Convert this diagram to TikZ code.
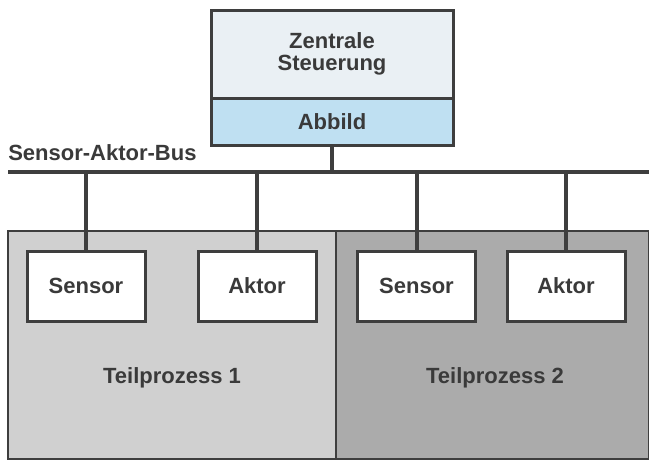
\documentclass[tikz,border=0pt]{standalone}
\usepackage{fontspec}
\setmainfont{Liberation Sans}
\definecolor{ink}{HTML}{3E3E3E}
\definecolor{txt}{HTML}{3A3A3A}
\definecolor{topfill}{HTML}{EAF0F4}
\definecolor{abbfill}{HTML}{BFE0F2}
\definecolor{tponefill}{HTML}{D0D0D0}
\definecolor{tptwofill}{HTML}{ABABAB}
\tikzset{
  lbl/.style={text=txt, font=\fontsize{16.5}{16}\selectfont\bfseries},
  region/.style={draw=ink, line width=2pt, rectangle, inner sep=0pt, minimum height=171pt},
  devbox/.style={draw=ink, line width=2.25pt, fill=white, rectangle, inner sep=0pt,
     minimum width=88.5pt, minimum height=52.5pt, lbl},
  ctrlbox/.style={draw=ink, line width=2.25pt, rectangle, inner sep=0pt,
     minimum width=181.5pt, lbl, align=center},
  busline/.style={draw=ink, line width=3pt},
  dropline/.style={draw=ink, line width=3pt},
}
\begin{document}
\begin{tikzpicture}[x=0.75pt,y=-0.75pt]
\useasboundingbox (0,0) rectangle (649,461);
% process regions
\node[region, fill=tponefill, minimum width=246pt] (tp1) at (172,345) {};
\node[region, fill=tptwofill, minimum width=234.75pt] (tp2) at (492.5,345) {};
\node[lbl] (tp1l) at (172,378) {Teilprozess 1};
\node[lbl] (tp2l) at (495,378) {Teilprozess 2};
% devices
\node[devbox] (s1) at (86,286) {Sensor};
\node[devbox] (a1) at (257,286) {Aktor};
\node[devbox] (s2) at (416.5,286) {Sensor};
\node[devbox] (a2) at (566,286) {Aktor};
% central control
\node[ctrlbox, fill=topfill, minimum height=66pt] (zs) at (332,54) {Zentrale\\Steuerung};
\node[ctrlbox, fill=abbfill, minimum height=35.25pt] (ab) at (332,121.5) {Abbild};
% bus
\coordinate (busl) at (8,172);
\coordinate (busr) at (649,172);
\draw[busline] (busl) -- (busr);
\node[lbl, anchor=base west, inner sep=0pt] (buslabel) at (8,160) {Sensor-Aktor-Bus};
\draw[dropline] (ab.south) -- (ab.south |- busl);
\draw[dropline] (s1.north) -- (s1.north |- busl);
\draw[dropline] (a1.north) -- (a1.north |- busl);
\draw[dropline] (s2.north) -- (s2.north |- busl);
\draw[dropline] (a2.north) -- (a2.north |- busl);
\end{tikzpicture}
\end{document}
